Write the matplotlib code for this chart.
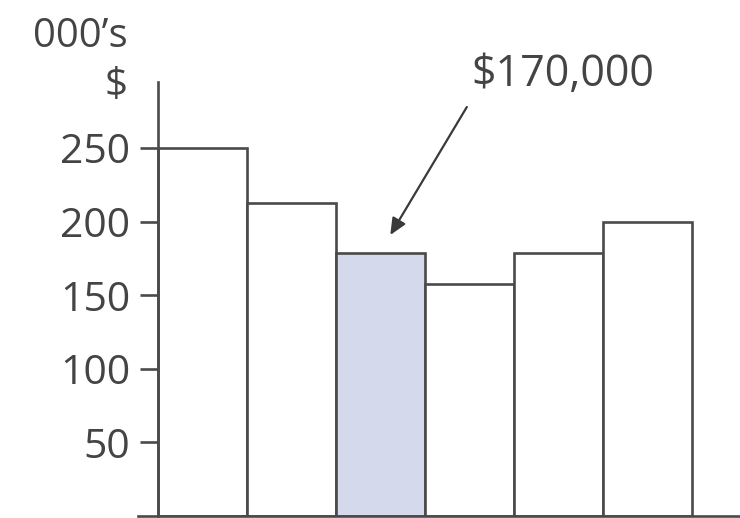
import numpy as np
import matplotlib.pyplot as plt

# bar heights in thousands of dollars
values = [250, 213, 179, 158, 179, 200]
highlight = 2  # the $170,000 bar
y_ticks = [50, 100, 150, 200, 250]

label_text = "$170,000"
edge_col = "#4a4a4a"
text_col = "#444444"
fill_col = "#d4d9ec"

plt.rcParams['font.family'] = ['Open Sans', 'DejaVu Sans']

fig = plt.figure(figsize=(7.4, 5.18), dpi=100)
ax = fig.add_axes([138 / 740, 2 / 518, 602 / 740, 434 / 518])

x = np.arange(len(values))
colors = ['white'] * len(values)
colors[highlight] = fill_col
ax.bar(x, values, width=1.0, align='edge', color=colors,
       edgecolor=edge_col, linewidth=1.9, zorder=2)

ax.set_xlim(-20 / 89, 582 / 89)
ax.set_ylim(0, 295)

# y axis sits at the left edge of the first bar
ax.spines['left'].set_position(('data', 0))
ax.spines['left'].set_bounds(0, 295)
ax.spines['right'].set_visible(False)
ax.spines['top'].set_visible(False)
for side in ['left', 'bottom']:
    ax.spines[side].set_color(edge_col)
    ax.spines[side].set_linewidth(1.9)

ax.set_xticks([])
ax.set_yticks(y_ticks)
ax.tick_params(axis='y', length=13, width=1.9, color=edge_col, pad=7,
               labelsize=29.5, labelcolor=text_col)
ax.patch.set_alpha(0)

# units label above the axis
fig.text(128 / 740, 1 - 37 / 518, "000\u2019s", ha='right', va='center',
         fontsize=29, color=text_col)
fig.text(128 / 740, 1 - 86 / 518, "$", ha='right', va='center',
         fontsize=29, color=text_col)

# arrow pointing at the highlighted bar
ax.annotate("", xy=(2.61, 191), xytext=(3.47, 278),
            arrowprops=dict(arrowstyle='-|>,head_length=1.0,head_width=0.45',
                            color='#3a3a3a', lw=1.6, shrinkA=0, shrinkB=0),
            annotation_clip=False)
ax.text(4.55, 300, label_text, ha='center', va='center', fontsize=31,
        color=text_col, clip_on=False)

fig.savefig("out.png", dpi=100)
